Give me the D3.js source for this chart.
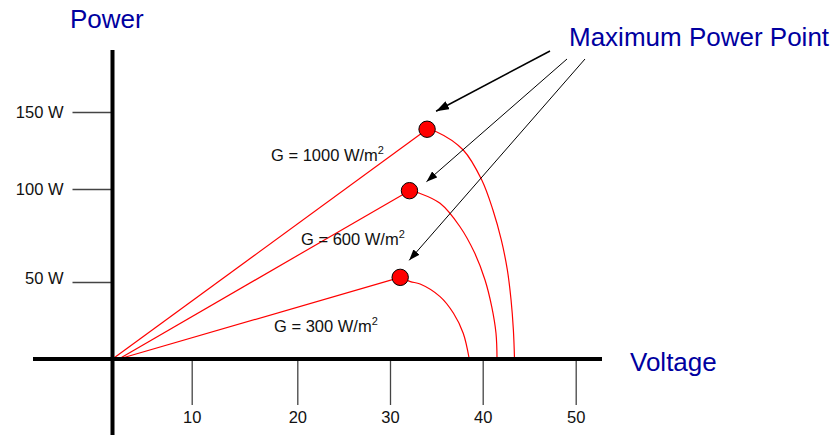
<!DOCTYPE html>
<html>
<head>
<meta charset="utf-8">
<script src="https://cdn.jsdelivr.net/npm/d3@7"></script>
<style>
  body { margin: 0; background: #fff; }
  svg text { font-family: "Liberation Sans", Arial, sans-serif; }
</style>
</head>
<body>
<svg id="chart" width="834" height="435"></svg>
<script>
// tick values and labels
var xTicks = [10, 20, 30, 40, 50];
var yTicks = [50, 100, 150];
var yTickLabels = ["50 W", "100 W", "150 W"];

// P-V curves: [voltage, power], second point is the MPP
var irradiance = ["1000", "600", "300"];
var curve1000 = [[0, 0], [34.0, 138.8], [35.0, 137.2], [37.9, 125.3], [39.9, 105.8], [41.1, 88.7], [42.0, 72.6],
    [42.65, 56.5], [43.05, 38.3], [43.3, 18.8], [43.42, 0]];
var curve600 = [[0.8, 0], [32.1, 99.1], [33.2, 97.7], [35.4, 92.3], [37.55, 79.7], [39.15, 65.4], [40.25, 51.1],
    [40.97, 34.0], [41.43, 16.7], [41.54, 0]];
var curve300 = [[0.8, 0], [31.1, 52.5], [32.2, 50.2], [33.25, 48.7], [35.4, 40.5], [36.85, 29.7], [37.9, 16.7], [38.55, 0]];
var curves = [curve1000, curve600, curve300];

// layout
var blue = "#0000a0";
var labelPos = [[271, 161], [301, 245], [274, 332]];
var arrowStarts = [[550, 51], [567, 59], [585, 59]];
var arrowTipOffsets = [[9, -18], [17, -9], [9, -17]];
var arrowWidths = [1.5, 1, 1];
var yLabelShift = [-4, 0, 0];

var svg = d3.select("#chart");

// the original drawing is hand-spaced, so the scales are piecewise
var x = d3.scaleLinear()
    .domain([0].concat(xTicks))
    .range([112.5, 191.7, 297.3, 390, 482.7, 575.7]);
var y = d3.scaleLinear()
    .domain([0].concat(yTicks))
    .range([359, 282, 189, 112]);

// arrow heads
var defs = svg.append("defs");
[["headBig", 13, 9], ["headSmall", 11, 8]].forEach(function (m) {
    defs.append("marker")
        .attr("id", m[0])
        .attr("markerUnits", "userSpaceOnUse")
        .attr("viewBox", (-m[1]) + " " + (-m[2] / 2) + " " + m[1] + " " + m[2])
        .attr("markerWidth", m[1])
        .attr("markerHeight", m[2])
        .attr("refX", 0)
        .attr("refY", 0)
        .attr("orient", "auto")
        .append("path")
        .attr("d", "M0,0L" + (-m[1]) + "," + (-m[2] / 2) + "L" + (-m[1]) + "," + (m[2] / 2) + "Z")
        .attr("fill", "#000");
});

// ticks
var yAxis = d3.axisLeft(y)
    .tickValues(yTicks)
    .tickSize(40)
    .tickPadding(9)
    .tickFormat(function (d, i) { return yTickLabels[i]; });
var gy = svg.append("g").attr("transform", "translate(" + x(0) + ",0)").call(yAxis);
gy.select(".domain").remove();
gy.selectAll("line").attr("stroke", "#444").attr("stroke-width", 1.3);
gy.selectAll("text").attr("font-size", "16.5px").attr("fill", "#111")
    .attr("y", function (d, i) { return yLabelShift[i]; })
    .style("font-family", "'Liberation Sans', Arial, sans-serif");

var xAxis = d3.axisBottom(x)
    .tickValues(xTicks)
    .tickSize(46)
    .tickPadding(6);
var gx = svg.append("g").attr("transform", "translate(0," + y(0) + ")").call(xAxis);
gx.select(".domain").remove();
gx.selectAll("line").attr("stroke", "#444").attr("stroke-width", 1.3);
gx.selectAll("text").attr("font-size", "16.5px").attr("fill", "#111")
    .style("font-family", "'Liberation Sans', Arial, sans-serif");

// curves: straight rise to the MPP, rounded fall to Voc
var rise = d3.line().x(function (d) { return x(d[0]); }).y(function (d) { return y(d[1]); });
var fall = d3.line().x(function (d) { return x(d[0]); }).y(function (d) { return y(d[1]); })
    .curve(d3.curveCatmullRom.alpha(0.5));

curves.forEach(function (c) {
    var m = d3.maxIndex(c, function (d) { return d[1]; });
    svg.append("path").attr("d", rise(c.slice(0, m + 1)))
        .attr("fill", "none").attr("stroke", "#ff0000").attr("stroke-width", 1.2);
    svg.append("path").attr("d", fall(c.slice(m)))
        .attr("fill", "none").attr("stroke", "#ff0000").attr("stroke-width", 1.2);
});

// main axes lines
svg.append("line")
    .attr("x1", x(0)).attr("x2", x(0)).attr("y1", 50).attr("y2", 435)
    .attr("stroke", "#000").attr("stroke-width", 4);
svg.append("line")
    .attr("x1", 33).attr("x2", 602).attr("y1", y(0)).attr("y2", y(0))
    .attr("stroke", "#000").attr("stroke-width", 4);

// maximum power points
var mpp = curves.map(function (c) { return c[d3.maxIndex(c, function (d) { return d[1]; })]; });
svg.selectAll("circle.mpp")
    .data(mpp)
    .enter()
    .append("circle")
    .attr("class", "mpp")
    .attr("cx", function (d) { return x(d[0]); })
    .attr("cy", function (d) { return y(d[1]); })
    .attr("r", 8.2)
    .attr("fill", "#ff0000")
    .attr("stroke", "#000")
    .attr("stroke-width", 1);

// curve labels
irradiance.forEach(function (g, i) {
    var t = svg.append("text")
        .attr("x", labelPos[i][0]).attr("y", labelPos[i][1])
        .attr("font-size", "16.5px").attr("fill", "#111");
    t.append("tspan").text("G = " + g + " W/m");
    t.append("tspan").text("2").attr("font-size", "11px").attr("dy", -7);
});

// arrows from the annotation to the dots
mpp.forEach(function (d, i) {
    svg.append("line")
        .attr("x1", arrowStarts[i][0]).attr("y1", arrowStarts[i][1])
        .attr("x2", x(d[0]) + arrowTipOffsets[i][0])
        .attr("y2", y(d[1]) + arrowTipOffsets[i][1])
        .attr("stroke", "#000")
        .attr("stroke-width", arrowWidths[i])
        .attr("marker-end", i === 0 ? "url(#headBig)" : "url(#headSmall)");
});

// titles
svg.append("text").attr("x", 70).attr("y", 28)
    .attr("font-size", "26px").attr("fill", blue).text("Power");
svg.append("text").attr("x", 630).attr("y", 371)
    .attr("font-size", "26px").attr("fill", blue).text("Voltage");
svg.append("text").attr("x", 569).attr("y", 46)
    .attr("font-size", "26px").attr("fill", blue).text("Maximum Power Point");
</script>
</body>
</html>
